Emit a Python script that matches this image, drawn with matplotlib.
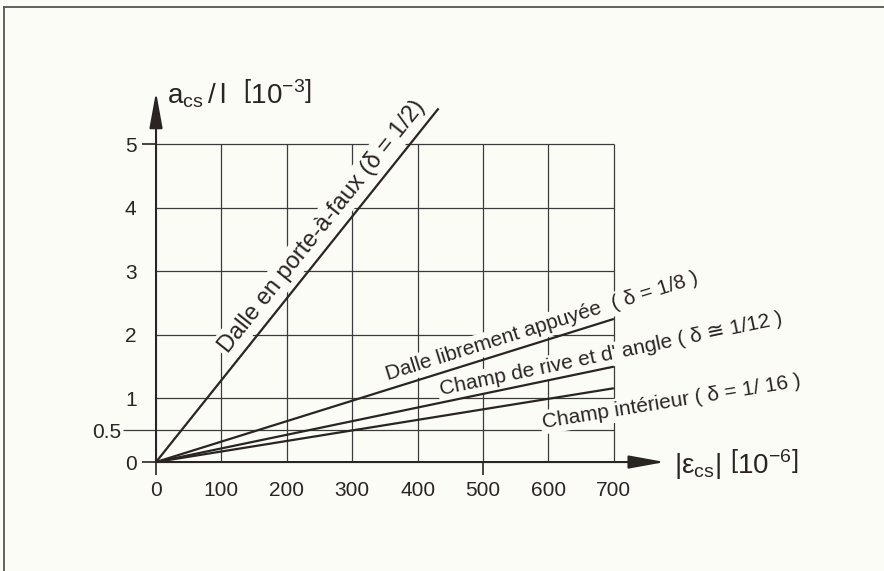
import numpy as np
import matplotlib
matplotlib.use("Agg")
import matplotlib.pyplot as plt
from matplotlib.lines import Line2D

# --- data ---
# end point of each straight line (they all start at the origin)
eps_end = [432, 700, 700, 700]          # |eps_cs| [1e-6]
a_end = [5.56, 2.25, 1.50, 1.16]        # a_cs / l [1e-3]
curve_labels = [
    "Dalle en porte-à-faux (δ = 1/2)",
    "Dalle librement appuyée  ( δ = 1/8 )",
    "Champ de rive et d' angle ( δ ≅ 1/12 )",
    "Champ intérieur ( δ = 1/ 16 )",
]
xticks = [0, 100, 200, 300, 400, 500, 600, 700]
yticks = [0, 1, 2, 3, 4, 5]
yticks_minor = [0.5]
hgrid = [0.5, 1, 2, 3, 4, 5]

# label centres and sizes (layout only)
label_pos = [(253, 3.70), (590, 2.13), (696, 1.69), (789, 0.95)]
label_size = [17, 15, 15, 15]

bg = "#fcfcf7"
ink = "#2a2522"
grid_c = "#3b3b3b"

plt.rcParams["font.family"] = ["Liberation Sans", "DejaVu Sans"]
plt.rcParams["mathtext.fontset"] = "custom"
plt.rcParams["mathtext.rm"] = "Liberation Sans"
plt.rcParams["mathtext.default"] = "rm"

fig = plt.figure(figsize=(8.84, 5.71), dpi=100, facecolor=bg)
ax = fig.add_axes([0.1617, 0.1574, 0.6067, 0.7018])
ax.set_facecolor(bg)
ax.set_xlim(-20, 800)
ax.set_ylim(-0.3, 6.0)

# grid
ax.hlines(hgrid, 0, xticks[-1], color=grid_c, lw=0.9, zorder=1)
ax.vlines(xticks[1:], 0, yticks[-1], color=grid_c, lw=0.9, zorder=1)

# axes with arrows
arrow = dict(arrowstyle="-|>,head_length=1.1,head_width=0.2", lw=1.5,
             color=ink, mutation_scale=20, shrinkA=0, shrinkB=0)
ax.annotate("", xy=(778, 0), xytext=(0, 0), arrowprops=arrow, zorder=6)
ax.annotate("", xy=(0, 5.82), xytext=(0, 0), arrowprops=arrow, zorder=6)

for s in ax.spines.values():
    s.set_visible(False)
ax.spines["left"].set_position(("data", 0))
ax.spines["bottom"].set_position(("data", 0))

ax.set_xticks(xticks, [str(v) for v in xticks])
ax.set_yticks(yticks, [str(v) for v in yticks])
ax.set_yticks(yticks_minor, ["0.5"], minor=True)
ax.tick_params(axis="x", length=9.5, width=1.2, color=ink, pad=4,
               labelsize=15, labelcolor=ink)
ax.tick_params(axis="y", which="major", length=10, width=1.2, color=ink,
               pad=4, labelsize=15, labelcolor=ink)
ax.tick_params(axis="y", which="minor", length=24, width=0.9, color=grid_c,
               pad=1, labelsize=15, labelcolor=ink)
for t, v in zip(ax.xaxis.get_major_ticks(), xticks):
    t.tick1line.set_visible(v in (0, 500))
for t, v in zip(ax.yaxis.get_major_ticks(), yticks):
    t.tick1line.set_visible(v in (0, 5))

# the lines
for x1, y1 in zip(eps_end, a_end):
    ax.plot([0, x1], [0, y1], color=ink, lw=1.6, solid_capstyle="butt",
            zorder=5)

# labels along the lines
for (x1, y1), txt, (lx, ly), fs in zip(zip(eps_end, a_end), curve_labels,
                                       label_pos, label_size):
    ang = np.degrees(np.arctan2(y1, x1))
    ax.text(lx, ly, txt, rotation=ang, transform_rotates_text=True,
            rotation_mode="anchor", ha="center", va="center", fontsize=fs,
            color=ink, zorder=4, clip_on=False,
            bbox=dict(boxstyle="square,pad=0.12", fc=bg, ec="none"))

# axis titles
ax.text(17, 5.64, r"$\mathrm{a_{cs}\,/\,l}\ \ \left[10^{-3}\right]$",
        fontsize=20, color=ink, va="baseline", ha="left", clip_on=False)
ax.text(792, -0.03, r"$|\mathrm{\varepsilon_{cs}}|\ \left[10^{-6}\right]$",
        fontsize=20, color=ink, va="center", ha="left", clip_on=False)

# scanned frame (top and left edges)
fig.add_artist(Line2D([0.004, 1.0], [0.988, 0.988], color="#555555",
                      lw=1.3, transform=fig.transFigure))
fig.add_artist(Line2D([0.005, 0.005], [0.0, 0.988], color="#555555",
                      lw=1.3, transform=fig.transFigure))

fig.savefig("out.png", dpi=100, facecolor=bg)
